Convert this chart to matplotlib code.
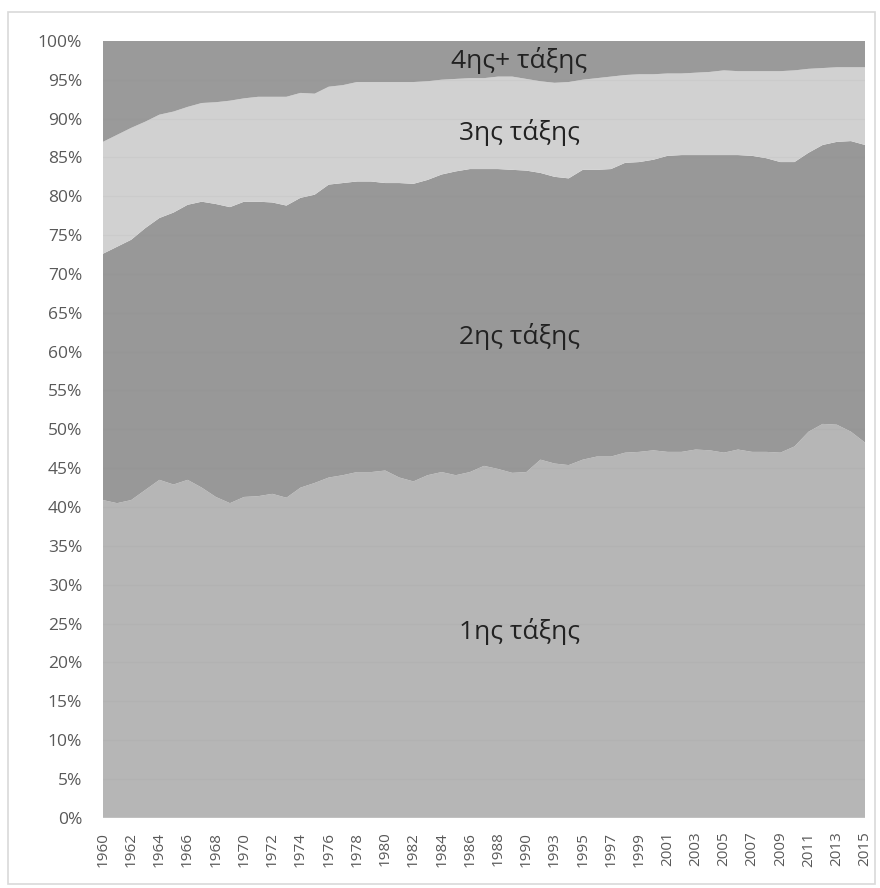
import matplotlib.pyplot as plt
from matplotlib.patches import Rectangle

plt.rcParams['font.family'] = ['Open Sans', 'DejaVu Sans']

# years on the category axis (1992 is missing in the source)
years = list(range(1960, 1992)) + list(range(1993, 2016))

# share of each class, percent
first = [40.9, 40.5, 40.9, 42.2, 43.5, 42.9, 43.5, 42.5, 41.3, 40.5,
         41.3, 41.4, 41.7, 41.2, 42.5, 43.1, 43.8, 44.1, 44.5, 44.5,
         44.7, 43.8, 43.3, 44.1, 44.5, 44.1, 44.5, 45.3, 44.9, 44.4,
         44.5, 46.1, 45.6, 45.4, 46.1, 46.5, 46.5, 47.0, 47.1, 47.3,
         47.1, 47.1, 47.4, 47.3, 47.0, 47.4, 47.1, 47.1, 47.0, 47.8,
         49.7, 50.7, 50.6, 49.7, 48.3]
second = [31.7, 33.0, 33.5, 33.7, 33.7, 35.0, 35.4, 36.8, 37.7, 38.1,
          38.0, 37.9, 37.5, 37.6, 37.3, 37.1, 37.7, 37.6, 37.4, 37.4,
          37.0, 37.9, 38.3, 38.0, 38.3, 39.1, 39.0, 38.2, 38.6, 39.0,
          38.8, 36.9, 36.9, 36.9, 37.3, 36.9, 37.0, 37.3, 37.3, 37.4,
          38.1, 38.2, 37.9, 38.0, 38.3, 37.9, 38.1, 37.8, 37.4, 36.6,
          35.9, 35.9, 36.4, 37.4, 38.3]
third = [14.4, 14.4, 14.4, 13.7, 13.3, 13.0, 12.6, 12.7, 13.1, 13.7,
         13.3, 13.5, 13.6, 14.0, 13.5, 13.0, 12.6, 12.6, 12.8, 12.8,
         13.0, 13.0, 13.1, 12.7, 12.2, 11.9, 11.7, 11.7, 11.9, 12.0,
         11.8, 11.8, 12.1, 12.4, 11.6, 11.8, 11.9, 11.3, 11.3, 11.0,
         10.6, 10.5, 10.6, 10.7, 10.9, 10.8, 10.9, 11.2, 11.7, 11.8,
         10.8, 9.9, 9.6, 9.5, 10.0]
fourth = [13.0, 12.1, 11.2, 10.4, 9.5, 9.1, 8.5, 8.0, 7.9, 7.7,
          7.4, 7.2, 7.2, 7.2, 6.7, 6.8, 5.9, 5.7, 5.3, 5.3,
          5.3, 5.3, 5.3, 5.2, 5.0, 4.9, 4.8, 4.8, 4.6, 4.6,
          4.9, 5.2, 5.4, 5.3, 5.0, 4.8, 4.6, 4.4, 4.3, 4.3,
          4.2, 4.2, 4.1, 4.0, 3.8, 3.9, 3.9, 3.9, 3.9, 3.8,
          3.6, 3.5, 3.4, 3.4, 3.4]

labels = ['1ης τάξης', '2ης τάξης', '3ης τάξης', '4ης+ τάξης']
colors = ['#b6b6b6', '#989898', '#d1d1d1', '#9a9a9a']

fig = plt.figure(figsize=(8.8, 8.88), dpi=100)
ax = fig.add_axes([0.117, 0.079, 0.866, 0.875])

x = list(range(len(years)))
# normalise to 100% like an Excel 100% stacked area
totals = [a + b + c + d for a, b, c, d in zip(first, second, third, fourth)]
series = [[v / t * 100 for v, t in zip(s, totals)] for s in (first, second, third, fourth)]
ax.stackplot(x, *series, colors=colors, labels=labels, linewidth=0)

ax.set_xlim(0, len(years) - 1)
ax.set_ylim(0, 100)
ax.set_yticks(range(0, 101, 5))
ax.set_yticklabels([f'{v}%' for v in range(0, 101, 5)], color='#595959', fontsize=12.5)
ax.set_xticks(x[::2])
ax.set_xticklabels([str(y) for y in years[::2]], rotation=90, color='#595959', fontsize=11)
ax.tick_params(axis='y', length=0, pad=15)
ax.tick_params(axis='x', length=0, pad=10)
for s in ax.spines.values():
    s.set_visible(False)
for v in range(5, 100, 5):
    ax.axhline(v, color='#888888', alpha=0.08, linewidth=0.8)

# series names written on the areas
ax.text(29.5, 97.5, labels[3], ha='center', va='center', fontsize=19, color='#222222')
ax.text(29.5, 88.2, labels[2], ha='center', va='center', fontsize=19, color='#222222')
ax.text(29.5, 62.0, labels[1], ha='center', va='center', fontsize=19, color='#222222')
ax.text(29.5, 24.0, labels[0], ha='center', va='center', fontsize=19, color='#222222')

# light border around the chart
fig.patches.append(Rectangle((0.009, 0.004), 0.985, 0.983, transform=fig.transFigure,
                             fill=False, edgecolor='#d9d9d9', linewidth=1.2))

plt.savefig('out.png')
